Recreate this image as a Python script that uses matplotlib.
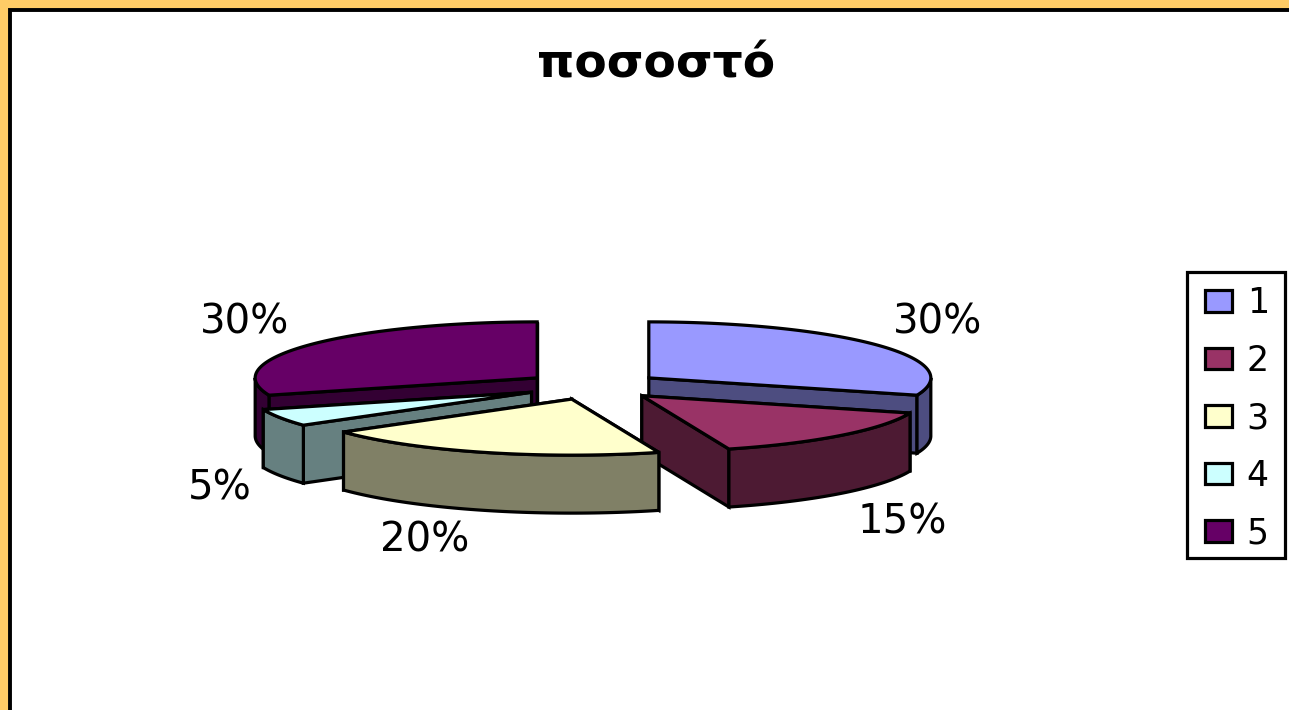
import numpy as np
import matplotlib
matplotlib.use("Agg")
import matplotlib.pyplot as plt
from matplotlib.patches import Polygon, Rectangle, Patch

# chart data
title = "ποσοστό"
categories = ["1", "2", "3", "4", "5"]
values = [30, 15, 20, 5, 30]
top_colors = ["#9999FF", "#993366", "#FFFFCC", "#CCFFFF", "#660066"]
side_colors = ["#4D4D80", "#4D1A33", "#808066", "#668080", "#330033"]
label_pos = [(938, 322), (902, 523), (425, 540), (220, 488), (245, 322)]

# fake 3d pie geometry, in pixels
cx0, cy0 = 593, 386
rx, ry = 282, 56
explode = 69
squash = 0.2
depth = 58
lw = 2.3

W, H = 1289, 710
fig = plt.figure(figsize=(W / 100, H / 100), dpi=100, facecolor="#FFCC66")
ax = fig.add_axes([0, 0, 1, 1])
ax.set_xlim(0, W)
ax.set_ylim(H, 0)
ax.axis("off")

ax.add_patch(Rectangle((10, 9.5), W + 20, H + 20, facecolor="white", edgecolor="black", lw=lw + 0.5))


def pt(c, a):
    return c[0] + rx * np.sin(a), c[1] - ry * np.cos(a)


def draw_slice(i, a0, a1):
    mid = (a0 + a1) / 2
    c = (cx0 + explode * np.sin(mid), cy0 - explode * squash * np.cos(mid))
    style = dict(edgecolor="black", lw=lw, joinstyle="miter")
    # cut faces, the one further back first
    for a in sorted((a0, a1), key=lambda v: -np.cos(v)):
        p = pt(c, a)
        ax.add_patch(Polygon([c, p, (p[0], p[1] + depth), (c[0], c[1] + depth)],
                             facecolor=side_colors[i], **style))
    # outer rim, only the part turned to the viewer
    lo, hi = max(a0, np.pi / 2), min(a1, 3 * np.pi / 2)
    if hi > lo:
        t = np.linspace(lo, hi, 60)
        x, y = pt(c, t)
        rim = np.r_[np.c_[x, y], np.c_[x, y + depth][::-1]]
        ax.add_patch(Polygon(rim, facecolor=side_colors[i], **style))
    # top
    t = np.linspace(a0, a1, 120)
    x, y = pt(c, t)
    ax.add_patch(Polygon(np.r_[[c], np.c_[x, y]], facecolor=top_colors[i], **style))


ends = np.cumsum(values) / np.sum(values) * 2 * np.pi
starts = np.r_[0, ends[:-1]]
# back slices first
for i in [4, 0, 3, 1, 2]:
    draw_slice(i, starts[i], ends[i])

for v, p in zip(values, label_pos):
    ax.text(p[0], p[1], f"{v}%", fontsize=29, family="DejaVu Sans", ha="center", va="center", color="black")

ax.text(656, 65, title, fontsize=34, fontweight="bold", family="DejaVu Sans", ha="center", va="center", color="black")

# legend frame is separate so the swatch inset can differ from the row padding
ax.add_patch(Rectangle((1187, 272), 98, 286, facecolor="white", edgecolor="black", lw=lw))
handles = [Patch(facecolor=c, edgecolor="black", lw=lw, label=n) for c, n in zip(top_colors, categories)]
leg = ax.legend(handles=handles, loc="upper left", bbox_to_anchor=(1205 / W, 1 - 286 / H),
                bbox_transform=fig.transFigure, prop={"family": "DejaVu Sans", "size": 25},
                frameon=False, borderaxespad=0, borderpad=0, labelspacing=0.68,
                handlelength=0.78, handleheight=0.58, handletextpad=0.42)

fig.savefig("out.png", dpi=100, facecolor=fig.get_facecolor())
